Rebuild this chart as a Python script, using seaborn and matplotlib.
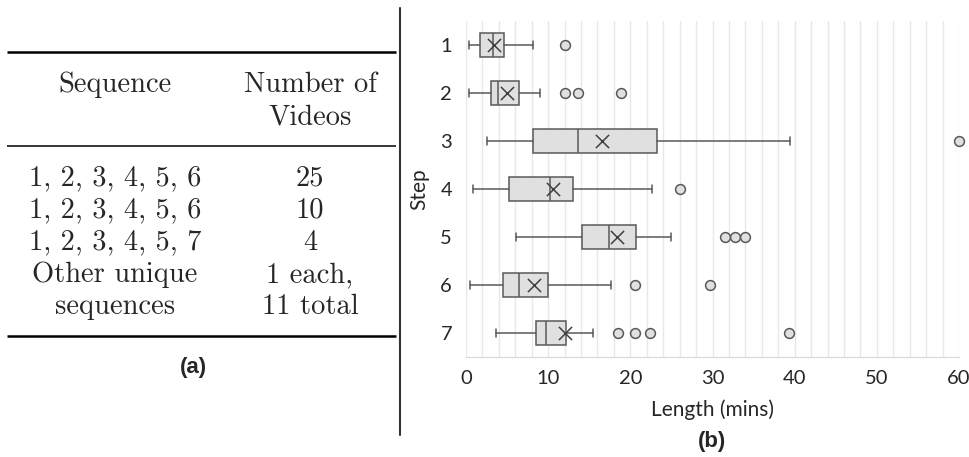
import matplotlib
matplotlib.use("Agg")
import matplotlib.pyplot as plt
from matplotlib.ticker import MultipleLocator
import seaborn as sns

# table (a)
header_seq = "Sequence"
header_videos = ["Number of", "Videos"]
seq_rows = [["1, 2, 3, 4, 5, 6"], ["1, 2, 3, 4, 5, 6"], ["1, 2, 3, 4, 5, 7"],
            ["Other unique", "sequences"]]
video_rows = [["25"], ["10"], ["4"], ["1 each,", "11 total"]]

# boxplot (b), minutes
steps = [1, 2, 3, 4, 5, 6, 7]
whis_low = [0.4, 0.4, 2.6, 0.8, 6.1, 0.5, 3.7]
q1 = [1.7, 3.0, 8.1, 5.2, 14.1, 4.5, 8.5]
median = [3.3, 3.9, 13.6, 10.2, 17.4, 6.5, 9.7]
q3 = [4.6, 6.5, 23.2, 13.0, 20.7, 10.0, 12.2]
whis_high = [8.1, 9.0, 39.4, 22.6, 24.9, 17.7, 15.4]
means = [3.4, 5.0, 16.5, 10.6, 18.4, 8.3, 12.1]
outlier_step = [1, 2, 2, 2, 3, 4, 5, 5, 5, 6, 6, 7, 7, 7, 7]
outlier_val = [12.1, 12.1, 13.6, 18.9, 60.0, 26.0, 31.5, 32.7, 33.9,
               20.6, 29.7, 18.5, 20.6, 22.4, 39.3]

sns.set_style("white")
plt.rcParams["font.family"] = ["Lato", "DejaVu Sans"]

fig = plt.figure(figsize=(9.69, 4.57), dpi=100)

# ---- left panel: table ----
tab = fig.add_axes([0, 0, 400 / 969, 1])
tab.set_xlim(0, 400)
tab.set_ylim(457, 0)
tab.axis("off")
serif = ["cmr10", "DejaVu Serif"]
fs = 20.5
for y, lw in [(52, 1.8), (146, 1.1), (336, 1.8)]:
    tab.plot([7, 396], [y, y], color="black", lw=lw, solid_capstyle="butt")
tab.text(115, 85, header_seq, ha="center", va="center", fontsize=fs, family=serif)
for i, line in enumerate(header_videos):
    tab.text(310, 85 + i * 32.3, line, ha="center", va="center", fontsize=fs, family=serif)
y = 178
for seq, vid in zip(seq_rows, video_rows):
    for j in range(len(seq)):
        tab.text(115, y, seq[j], ha="center", va="center", fontsize=fs, family=serif)
        tab.text(310, y, vid[j], ha="center", va="center", fontsize=fs, family=serif)
        y += 32.3
tab.text(193, 368, "(a)", ha="center", va="center", fontsize=16, fontweight="bold",
         family=["Liberation Sans"])

# separator
fig.add_artist(plt.Line2D([400 / 969, 400 / 969], [1 - 8 / 457, 1 - 435 / 457],
                          color="#333333", lw=1.5))

# ---- right panel: box plot ----
ax = fig.add_axes([466 / 969, 1 - 357 / 457, 493 / 969, 336 / 457])
edge = "#595959"
fill = "#e0e0e0"
stats = [dict(whislo=a, q1=b, med=c, q3=d, whishi=e, fliers=[], label=str(s))
         for s, a, b, c, d, e in zip(steps, whis_low, q1, median, q3, whis_high)]
ax.bxp(stats, positions=steps, vert=False, widths=0.5, patch_artist=True,
       showfliers=False, capwidths=0.18,
       boxprops=dict(facecolor=fill, edgecolor=edge, lw=1.1),
       medianprops=dict(color=edge, lw=1.1),
       whiskerprops=dict(color=edge, lw=1.1),
       capprops=dict(color=edge, lw=1.1))
sns.scatterplot(x=outlier_val, y=outlier_step, ax=ax, marker="o", s=50,
                facecolor=fill, edgecolor=edge, linewidth=1.1, zorder=4,
                clip_on=False)
sns.scatterplot(x=means, y=steps, ax=ax, marker="x", s=90, color="#404040",
                linewidth=1.1, zorder=5)

ax.set_xlim(0, 60)
ax.set_ylim(7.5, 0.5)
ax.set_yticks(steps)
ax.set_yticklabels([str(s) for s in steps])
ax.xaxis.set_major_locator(MultipleLocator(10))
ax.xaxis.set_minor_locator(MultipleLocator(2))
ax.grid(True, axis="x", which="both", color="#e8e8e8", lw=1)
ax.set_axisbelow(True)
for side in ["left", "top", "right"]:
    ax.spines[side].set_visible(False)
ax.spines["bottom"].set_color("#d9d9d9")
ax.tick_params(axis="both", which="both", length=0, labelsize=14.5, colors="#262626")
ax.tick_params(axis="y", pad=10)
ax.tick_params(axis="x", pad=9)
ax.set_xlabel("Length (mins)", fontsize=15, color="#262626", labelpad=9)
ax.set_ylabel("Step", fontsize=15, color="#262626", labelpad=8)
fig.text(712 / 969, 1 - 441 / 457, "(b)", ha="center", va="center", fontsize=16,
         fontweight="bold", family=["Liberation Sans"])

fig.savefig("out.png", dpi=100)
